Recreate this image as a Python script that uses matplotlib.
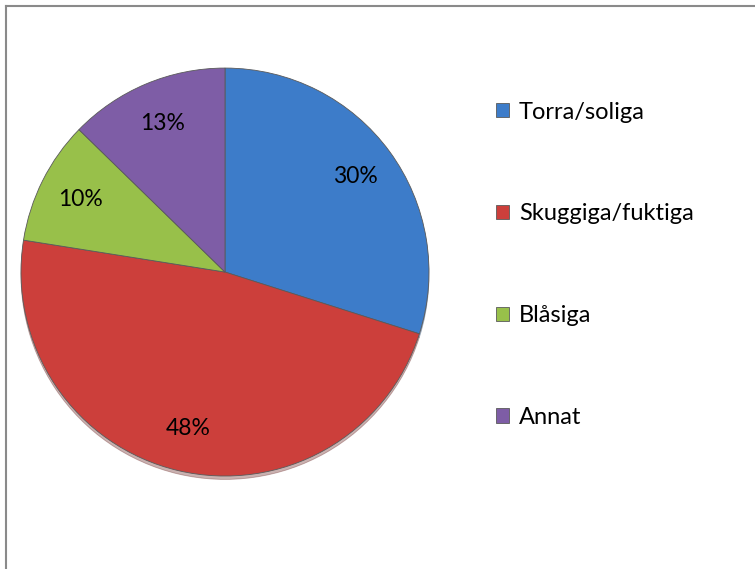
import matplotlib.pyplot as plt
from matplotlib.lines import Line2D

plt.rcParams['font.family'] = ['Lato', 'DejaVu Sans']

# data
categories = ['Torra/soliga', 'Skuggiga/fuktiga', 'Blåsiga', 'Annat']
shares = [29.9, 47.6, 9.8, 12.7]
colors = ['#3D7CC9', '#CC3F3B', '#98C04A', '#7E5DA6']

fig = plt.figure(figsize=(7.55, 5.69), dpi=100)

# pie area
ax = fig.add_axes([0.0278, 0.1634, 0.5404, 0.7170])
wedges, texts, autotexts = ax.pie(
    shares, colors=colors, startangle=90, counterclock=False,
    autopct='%.0f%%', pctdistance=0.79, radius=1.0,
    shadow=dict(ox=0.0, oy=-0.012, shade=0.5, alpha=0.35),
    wedgeprops=dict(edgecolor='#5a5a5a', linewidth=0.6),
    textprops=dict(fontsize=16.5, color='black'))
ax.set_xlim(-1.0, 1.0)
ax.set_ylim(-1.0, 1.0)
ax.set_aspect('equal')

fig.legend(wedges, categories, loc='upper left', bbox_to_anchor=(0.645, 0.838),
           frameon=False, fontsize=17, handlelength=0.55, handleheight=0.55,
           handletextpad=0.4, labelspacing=3.42, borderaxespad=0)

# grey frame, top and left edges
fig.add_artist(Line2D([0.008, 1.0], [0.990, 0.990], transform=fig.transFigure,
                      color='#8a8a8a', linewidth=1.5))
fig.add_artist(Line2D([0.008, 0.008], [0.0, 0.990], transform=fig.transFigure,
                      color='#8a8a8a', linewidth=1.5))

fig.savefig('out.png', dpi=100)
